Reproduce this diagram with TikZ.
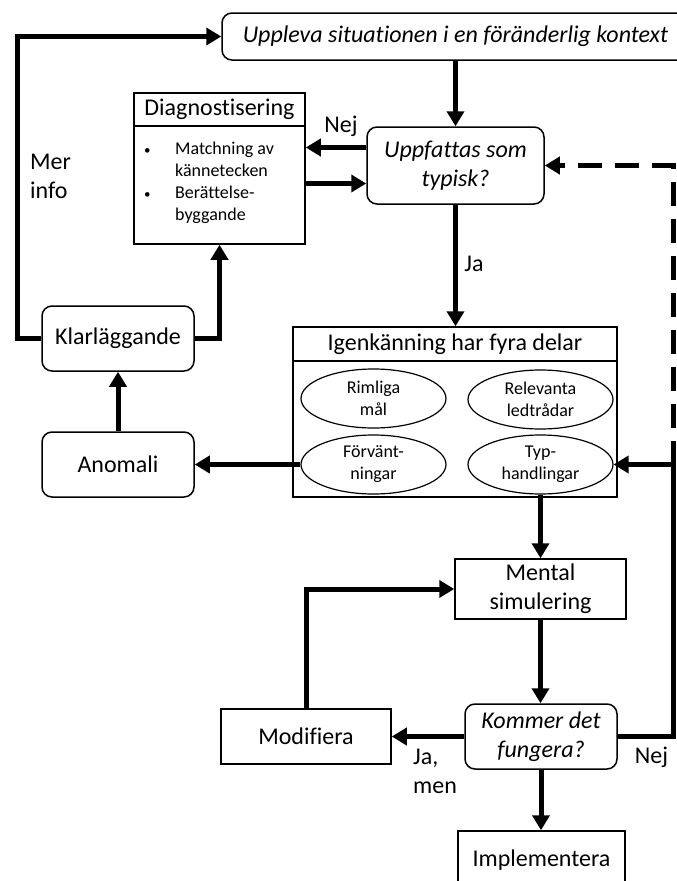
\documentclass[tikz,border=0pt]{standalone}
\usepackage{fontspec}
\setmainfont{Carlito}[Ligatures=NoCommon]
\usetikzlibrary{arrows.meta,shapes.geometric}
\newcommand{\bigtxt}{\fontsize{24}{29}\selectfont}
\newcommand{\smalltxt}{\fontsize{18}{22}\selectfont}
\newcommand{\dotmark}{{\fontsize{13}{13}\selectfont\textbullet}}
\begin{document}
\begin{tikzpicture}[x=1pt,y=-1pt,
  box/.style={draw,line width=1.5pt,align=center,inner sep=0pt,font=\bigtxt},
  rbox/.style={box,rounded corners=10pt},
  itbox/.style={rbox,font=\bigtxt\itshape},
  oval/.style={ellipse,draw,line width=1.2pt,minimum width=145pt,minimum height=59pt,inner sep=0pt,align=center,font=\smalltxt},
  lbl/.style={font=\bigtxt,inner sep=0pt,align=left},
  flow/.style={line width=5pt,-{Triangle[length=15pt,width=17pt]}}]
\clip (0,0) rectangle (677,881);
\fill[white] (0,0) rectangle (677,881);
% boxes
\node[itbox,minimum width=467pt,minimum height=47pt] (situation) at (455.5,36.5) {Uppleva situationen i en föränderlig kontext};
\node[itbox,minimum width=177pt,minimum height=77pt] (typisk) at (455.5,165.5) {Uppfattas som\\typisk?};
\node[box,minimum width=171pt,minimum height=151pt] (diag) at (219.5,168.5) {};
\node[lbl] (diagtitle) at (219.5,109.5) {Diagnostisering};
\draw[line width=1.2pt] (diag.west |- 0,126) -- (diag.east |- 0,126);
\node[font=\smalltxt,inner sep=0pt,anchor=north west] (diaglist) at (144,139) {%
  \begin{tabular}{@{}p{31pt}@{}l@{}}
  \dotmark & Matchning av\\
           & kännetecken\\
  \dotmark & Berättelse-\\
           & byggande
  \end{tabular}};
\node[rbox,minimum width=152pt,minimum height=65pt] (klar) at (118,338.5) {Klarläggande};
\node[rbox,minimum width=152pt,minimum height=65pt] (anomali) at (118,464.5) {Anomali};
\node[box,minimum width=324pt,minimum height=170pt] (igen) at (455,412) {};
\node[lbl] (igentitle) at (455,344) {Igenkänning har fyra delar};
\draw[line width=1.2pt] (igen.west |- 0,361) -- (igen.east |- 0,361);
\node[oval] (mal) at (373.5,398.5) {Rimliga\\mål};
\node[oval] (ledtradar) at (540.5,399.5) {Relevanta\\ledtrådar};
\node[oval] (forvantn) at (373.5,464.5) {Förvänt-\\ningar};
\node[oval] (typhandl) at (540.5,464.5) {Typ-\\handlingar};
\node[box,minimum width=171pt,minimum height=60pt] (mental) at (540.5,589) {Mental\\simulering};
\node[box,minimum width=170pt,minimum height=55pt] (modifiera) at (306,736.5) {Modifiera};
\node[itbox,minimum width=152pt,minimum height=65pt] (fungera) at (541,736.5) {Kommer det\\fungera?};
\node[box,minimum width=167pt,minimum height=58pt] (impl) at (541.5,860) {Implementera};
% labels
\node[lbl] (nej1) at (341,126) {Nej};
\node[lbl] (ja1) at (474,264) {Ja};
\node[lbl] (merinfo) at (50.5,176) {Mer\\info};
\node[lbl] (jamen) at (435,771) {Ja,\\men};
\node[lbl] (nej2) at (651.5,757) {Nej};
% corners
\coordinate (nw) at (17,36.5);
\coordinate (ne) at (673,165.5);
\coordinate (kink) at (673,464.5);
\coordinate (se) at (673,736.5);
\coordinate (nejout) at ([yshift=18pt]typisk.west);
\coordinate (nejin) at ([yshift=-18pt]typisk.west);
% connectors
\draw[flow] (situation.south) -- (typisk.north);
\draw[flow] (nejout) -- (nejout -| diag.east);
\draw[flow] (nejin -| diag.east) -- (nejin);
\draw[flow] (typisk.south) -- (typisk.south |- igen.north);
\draw[flow] (klar.west) -| (nw) -- (situation.west);
\draw[flow] (klar.east) -| (diag.south);
\draw[flow] (anomali.north) -- (klar.south);
\draw[flow] (forvantn.west) -- (anomali.east);
\draw[flow] (typhandl.south) -- (mental.north);
\draw[flow] (mental.south) -- (mental.south |- fungera.north);
\draw[flow] (fungera.west) -- (modifiera.east);
\draw[flow] (modifiera.north) |- (mental.west);
\draw[flow] (fungera.south) -- (fungera.south |- impl.north);
\draw[flow] (fungera.east) -- (se) -- (kink) -- (typhandl.east);
\draw[flow,dash pattern=on 24pt off 13pt] (kink) -- (ne) -- (typisk.east);
\end{tikzpicture}
\end{document}
